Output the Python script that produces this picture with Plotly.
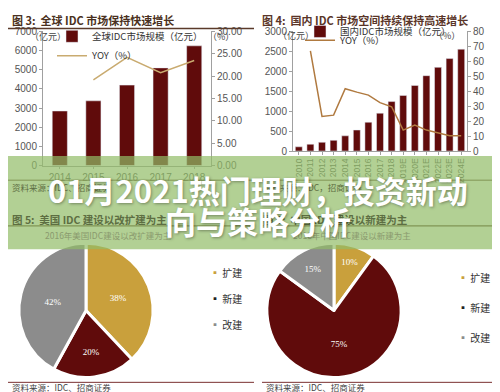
import plotly.graph_objects as go

# ---------------- data ----------------
years_global = ["2014", "2015", "2016", "2017", "2018"]
global_idc = [2850, 3380, 4200, 5100, 6250]
yoy_years_global = ["2015", "2016", "2017", "2018"]
global_yoy = [19.2, 24.2, 20.8, 23.5]

years_china = ["2010", "2011", "2012", "2013", "2014", "2015", "2016", "2017", "2018",
               "2019E", "2020E", "2021E", "2022E", "2023E", "2024E"]
china_idc = [105, 170, 219, 268, 381, 527, 722, 949, 1241, 1395, 1646, 1890, 2100, 2320, 2555]
yoy_years_china = years_china[1:]
china_yoy = [67.0, 23.1, 24.0, 41.7, 39.4, 37.4, 32.4, 29.6, 14.0, 17.3, 14.0, 11.9, 10.2, 10.2]

pie_labels = ["扩建", "新建", "改建"]
us_share = [38, 20, 42]
cn_share = [10, 75, 15]

# ---------------- styling ----------------
W, H = 500, 392
def py(p):
    return 1 - p / H
def px(p):
    return p / W

DARKRED = "#600b0b"
GOLD = "#c9a03c"
GRAY = "#8c8c8c"
SANS = "Liberation Sans, Arial, sans-serif"
CJK = "Noto Sans CJK SC, sans-serif"

fig = go.Figure()

fig.add_trace(go.Bar(x=years_global, y=global_idc, name="全球IDC市场规模（亿元）",
                     marker_color=DARKRED, width=0.45, xaxis="x", yaxis="y", legend="legend"))
fig.add_trace(go.Scatter(x=yoy_years_global, y=global_yoy, name="YOY（%）", mode="lines",
                         line=dict(color="#c9ab70", width=1.5), xaxis="x", yaxis="y2", legend="legend2"))

fig.add_trace(go.Bar(x=years_china, y=china_idc, name="国内IDC市场规模（亿元）",
                     marker_color=DARKRED, width=0.6, xaxis="x2", yaxis="y3", legend="legend3"))
fig.add_trace(go.Scatter(x=yoy_years_china, y=china_yoy, name="YOY（%）", mode="lines",
                         line=dict(color="#b07a40", width=1.5), xaxis="x2", yaxis="y4", legend="legend4"))

pie_common = dict(labels=pie_labels, sort=False, direction="clockwise", rotation=0,
                  texttemplate="%{value}%", textposition="inside",
                  insidetextorientation="horizontal",
                  textfont=dict(color="white", size=9, family="Liberation Serif, serif"),
                  showlegend=False, hoverinfo="skip")
fig.add_trace(go.Pie(values=us_share,
                     marker=dict(colors=[GOLD, DARKRED, GRAY], line=dict(color="white", width=3)),
                     domain=dict(x=[px(9), px(147)], y=[py(375), py(237)]), **pie_common))
fig.add_trace(go.Pie(values=cn_share,
                     marker=dict(colors=[GOLD, DARKRED, GRAY], line=dict(color="white", width=3)),
                     domain=dict(x=[px(257), px(395)], y=[py(375), py(237)]), **pie_common))

axis_common = dict(showline=True, linecolor="#a0a0a0", linewidth=1, ticks="outside",
                   ticklen=3, tickcolor="#a0a0a0", showgrid=False, zeroline=False,
                   tickfont=dict(family=SANS, size=10, color="#555"))

legend_common = dict(bgcolor="rgba(0,0,0,0)", xanchor="left", yanchor="middle",
                     font=dict(family=CJK, size=9.5, color="#333"), itemwidth=30)

fig.update_layout(
    width=W, height=H, margin=dict(l=0, r=0, t=0, b=0),
    paper_bgcolor="white", plot_bgcolor="white",
    xaxis=dict(domain=[px(35), px(203)], anchor="y", type="category",
               **{**axis_common, "ticklen": 2}),
    yaxis=dict(domain=[py(157), py(19)], anchor="x", range=[0, 7000], dtick=1000, **axis_common),
    yaxis2=dict(overlaying="y", anchor="x", side="right", range=[0, 30], dtick=5,
                tickformat=".2f", **axis_common),
    xaxis2=dict(domain=[px(285), px(459)], anchor="y3", type="category", tickangle=-90,
                **{**axis_common, "tickfont": dict(family=SANS, size=8.5, color="#555")}),
    yaxis3=dict(domain=[py(142), py(19)], anchor="x2", range=[0, 3000], dtick=500, **axis_common),
    yaxis4=dict(overlaying="y3", anchor="x2", side="right", range=[0, 80], dtick=10, **axis_common),
    legend=dict(x=px(44), y=py(24), **legend_common),
    legend2=dict(x=px(44), y=py(44), **legend_common),
    legend3=dict(x=px(292), y=py(19), **legend_common),
    legend4=dict(x=px(292), y=py(28), **legend_common),
)

shapes = [
    dict(type="line", xref="paper", yref="paper", x0=0, x1=px(246), y0=py(16), y1=py(16),
         line=dict(color="#5a3a2a", width=1.5)),
    dict(type="line", xref="paper", yref="paper", x0=0, x1=px(246), y0=py(172), y1=py(172),
         line=dict(color="#5a3a2a", width=1)),
    dict(type="line", xref="paper", yref="paper", x0=px(254), x1=1, y0=py(172), y1=py(172),
         line=dict(color="#5a3a2a", width=1)),
    dict(type="line", xref="paper", yref="paper", x0=0, x1=px(246), y0=py(219), y1=py(219),
         line=dict(color="#5a3a2a", width=1.2)),
    dict(type="line", xref="paper", yref="paper", x0=px(254), x1=1, y0=py(219), y1=py(219),
         line=dict(color="#5a3a2a", width=1.2)),
    dict(type="line", xref="paper", yref="paper", x0=0, x1=px(246), y0=py(380), y1=py(380),
         line=dict(color="#7a3030", width=1)),
    dict(type="line", xref="paper", yref="paper", x0=px(254), x1=1, y0=py(380), y1=py(380),
         line=dict(color="#7a3030", width=1)),
    # translucent green banner
    dict(type="rect", xref="paper", yref="paper", x0=0, x1=1, y0=py(243), y1=py(147),
         fillcolor="rgba(145,188,102,0.7)", line=dict(width=0), layer="above"),
]

def ann(text, x, y, size=10, color="#333", family=CJK, xanchor="left", yanchor="middle", **kw):
    return dict(text=text, x=px(x), y=py(y), xref="paper", yref="paper", showarrow=False,
                xanchor=xanchor, yanchor=yanchor, font=dict(size=size, color=color, family=family), **kw)

under = "#5d6e42"  # text tint when under the banner
annotations = [
    ann("<b>图 3:  全球 IDC 市场保持快速增长</b>", 2, 7, size=11, color="#4a3020"),
    ann("<b>图 4:  国内 IDC 市场空间持续保持高速增长</b>", 252, 7, size=11, color="#5a3528"),
    ann("（亿元）", 20, 24, size=9, color="#444"),
    ann("（%）", 198, 24, size=9, color="#444"),
    ann("（亿元）", 268, 23, size=9, color="#444"),
    ann("（%）", 424, 23, size=9, color="#444"),
    ann("资料来源：IDC、招商证券", 2, 179, size=8.5, color=under),
    ann("资料来源：IDC，招商证券", 253, 179, size=8.5, color=under),
    ann("<b>图 5:  美国 IDC 建设以改扩建为主</b>", 2, 212, size=10.5, color=under),
    ann("<b>图 6:  中国 IDC 建设以新建为主</b>", 253, 212, size=10.5, color=under),
    ann("2016年美国IDC建设以改扩建为主", 100, 228, size=8.5, color="#8a9a6e", xanchor="center"),
    ann("2016年中国IDC建设以新建为主", 344, 228, size=8.5, color="#8a9a6e", xanchor="center"),
    ann("资料来源：IDC、招商证券", 2, 385, size=8.5, color="#444"),
    ann("资料来源：IDC、招商证券", 256, 385, size=8.5, color="#444"),
]
leg_colors = [GOLD, "#222", GRAY]
for i, lab in enumerate(pie_labels):
    annotations.append(ann(f"<span style='color:{leg_colors[i]}'>▪</span> {lab}", 200, 267 + 27 * i, size=10))
    annotations.append(ann(f"<span style='color:{leg_colors[i]}'>▪</span> {lab}", 448, 272 + 31 * i, size=10))

title_font = dict(family=CJK, size=31, color="white", weight="bold",
                  shadow="1px 1px 3px rgba(0,0,0,0.35)")
annotations.append(dict(text="01月2021热门理财，投资新动", x=0.5, y=py(182), xref="paper", yref="paper",
                        showarrow=False, xanchor="center", yanchor="middle", font=title_font))
annotations.append(dict(text="向与策略分析", x=0.5, y=py(214), xref="paper", yref="paper",
                        showarrow=False, xanchor="center", yanchor="middle", font=title_font))

fig.update_layout(shapes=shapes, annotations=annotations)
fig.write_html("out.html")
